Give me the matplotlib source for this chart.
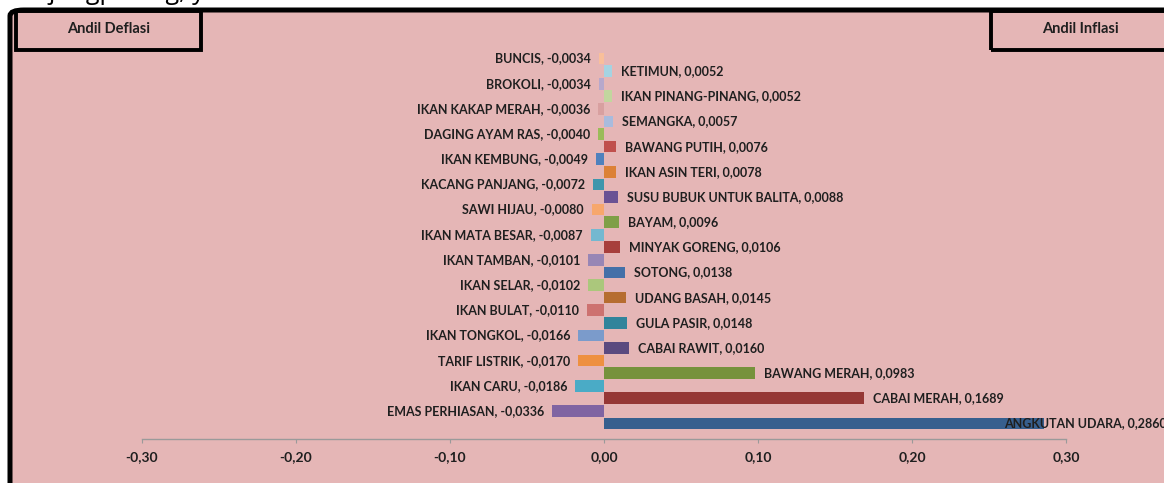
import matplotlib
matplotlib.use("Agg")
import matplotlib.pyplot as plt
from matplotlib.patches import FancyBboxPatch, Rectangle

# komoditas dari atas ke bawah (deflasi dan inflasi berselang-seling)
commodities = [
    "BUNCIS", "KETIMUN", "BROKOLI", "IKAN PINANG-PINANG", "IKAN KAKAP MERAH",
    "SEMANGKA", "DAGING AYAM RAS", "BAWANG PUTIH", "IKAN KEMBUNG", "IKAN ASIN TERI",
    "KACANG PANJANG", "SUSU BUBUK UNTUK BALITA", "SAWI HIJAU", "BAYAM",
    "IKAN MATA BESAR", "MINYAK GORENG", "IKAN TAMBAN", "SOTONG", "IKAN SELAR",
    "UDANG BASAH", "IKAN BULAT", "GULA PASIR", "IKAN TONGKOL", "CABAI RAWIT",
    "TARIF LISTRIK", "BAWANG MERAH", "IKAN CARU", "CABAI MERAH",
    "EMAS PERHIASAN", "ANGKUTAN UDARA",
]
andil = [
    -0.0034, 0.0052, -0.0034, 0.0052, -0.0036,
    0.0057, -0.0040, 0.0076, -0.0049, 0.0078,
    -0.0072, 0.0088, -0.0080, 0.0096,
    -0.0087, 0.0106, -0.0101, 0.0138, -0.0102,
    0.0145, -0.0110, 0.0148, -0.0166, 0.0160,
    -0.0170, 0.0983, -0.0186, 0.1689,
    -0.0336, 0.2860,
]
x_ticks = [-0.30, -0.20, -0.10, 0.00, 0.10, 0.20, 0.30]
x_tick_labels = ["-0,30", "-0,20", "-0,10", "0,00", "0,10", "0,20", "0,30"]

bar_colors = [
    "#F9BF9A", "#A5D3E2", "#B7A8CC", "#C2D69E", "#D8A0A0",
    "#A8BBDD", "#9BBB59", "#C0504D", "#4F81BD", "#DC8137",
    "#3F96AC", "#6A5294", "#F7A76C", "#7F9F47", "#74B8D0",
    "#A73F3C", "#9886B5", "#4470A8", "#ABC77C", "#B66D30",
    "#CD7270", "#31849B", "#7B9BCB", "#5B4A7F", "#EE9040",
    "#76923C", "#4AABC6", "#953735", "#8064A2", "#375F8E",
]

PINK = "#E5B6B6"
TXT = "#1F1F1F"
FONT = "Lato"
LBL_SIZE = 9

W, H = 1164, 483
fig = plt.figure(figsize=(W / 100, H / 100), dpi=100)
fig.patch.set_facecolor("white")

def px(x, y):
    return x / W, 1 - y / H

# latar grafik dengan bingkai hitam
bx, by = px(10, 10)
frame = FancyBboxPatch((bx, -0.05), 1.1 - bx, by + 0.05,
                       boxstyle="round,pad=0,rounding_size=0.012",
                       transform=fig.transFigure, facecolor=PINK,
                       edgecolor="black", linewidth=3.6, zorder=-2)
fig.patches.append(frame)

# potongan teks dokumen di atas grafik (hanya ekornya yang terlihat)
fig.text(px(6, 0)[0], px(0, -1)[1], "Tanjungpinang, yaitu", fontsize=18,
         family="Open Sans", color="black", va="baseline", ha="left", zorder=-1)

# kotak keterangan
for x0, x1, label in [(16, 201, "Andil Deflasi"), (991, 1170, "Andil Inflasi")]:
    l, t = px(x0, 11)
    r, b = px(x1, 50)
    fig.patches.append(Rectangle((l, b), r - l, t - b, transform=fig.transFigure,
                                 facecolor="none", edgecolor="black",
                                 linewidth=2.8, zorder=3))
    fig.text((l + r) / 2, px(0, 29)[1], label, ha="center", va="center",
             fontsize=10.5, fontweight="bold", family=FONT, color=TXT, zorder=4)

left, top = px(142, 43)
right, bottom = px(1066, 439)
ax = fig.add_axes([left, bottom, right - left, top - bottom])
ax.patch.set_visible(False)

rows = list(range(len(commodities)))
ax.barh(rows, andil, height=0.93, color=bar_colors, edgecolor="none", zorder=2)

for i, (name, v) in enumerate(zip(commodities, andil)):
    label = f"{name}, {v:.4f}".replace(".", ",")
    if v < 0:
        ax.annotate(label, (v, i), xytext=(-5.8, 0), textcoords="offset points",
                    ha="right", va="center", fontsize=LBL_SIZE, fontweight="bold",
                    family=FONT, color=TXT)
    elif v == max(andil):
        # label terlalu panjang, Excel menggesernya ke dalam batang
        ax.annotate(label, (v, i), xytext=(-29, 0), textcoords="offset points",
                    ha="left", va="center", fontsize=LBL_SIZE, fontweight="bold",
                    family=FONT, color=TXT, annotation_clip=False)
    else:
        ax.annotate(label, (v, i), xytext=(6.5, 0), textcoords="offset points",
                    ha="left", va="center", fontsize=LBL_SIZE, fontweight="bold",
                    family=FONT, color=TXT)

ax.set_xlim(-0.30, 0.30)
ax.set_ylim(len(rows) - 1 + 1.23, -1.23)
ax.set_xticks(x_ticks)
ax.set_xticklabels(x_tick_labels)
ax.set_yticks([])
for s in ["left", "right", "top"]:
    ax.spines[s].set_visible(False)
ax.spines["bottom"].set_color("#9A9A9A")
ax.spines["bottom"].set_linewidth(1.0)
ax.tick_params(axis="x", direction="out", length=3, color="#9A9A9A", pad=6)
for t in ax.get_xticklabels():
    t.set_fontsize(10)
    t.set_fontweight("bold")
    t.set_family(FONT)
    t.set_color(TXT)

fig.savefig("out.png", dpi=100)
